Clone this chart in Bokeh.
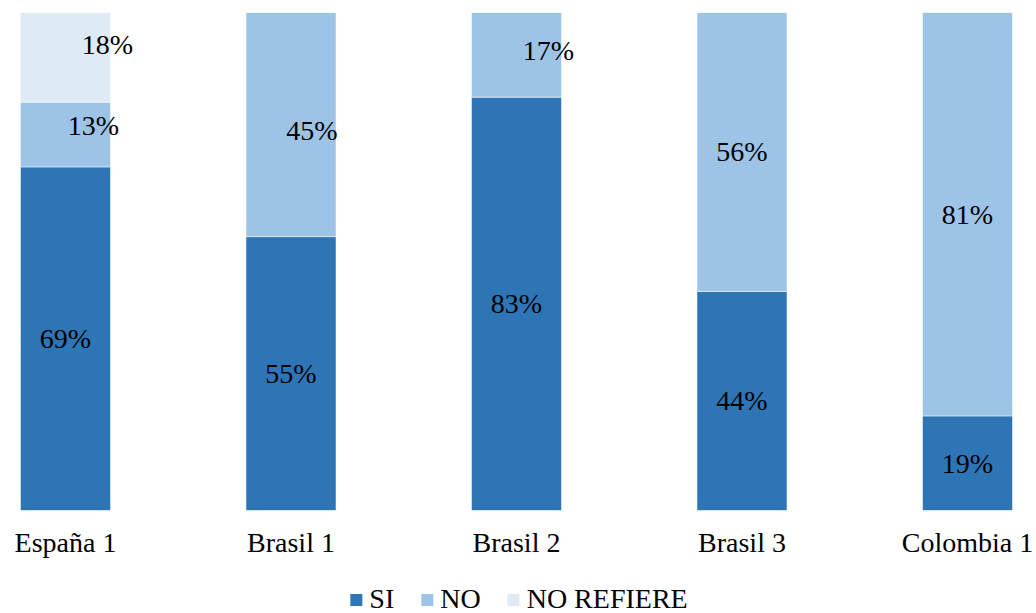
from bokeh.plotting import figure
from bokeh.layouts import column
from bokeh.models import ColumnDataSource, Legend, LegendItem, FixedTicker
from bokeh.core.properties import value
from bokeh.embed import file_html
from bokeh.resources import INLINE

categories = ["España 1", "Brasil 1", "Brasil 2", "Brasil 3", "Colombia 1"]
series = ["SI", "NO", "NO REFIERE"]
si_values = [69, 55, 83, 44, 19]
no_values = [13, 45, 17, 56, 81]
no_refiere_values = [18, 0, 0, 0, 0]

colors = ["#2E75B6", "#9DC3E6", "#DEEBF7"]
FONT = "Liberation Serif"
# manual label nudges (screen pixels) as in the original data labels
label_dx = {(0, 1): 28, (0, 2): 42, (1, 1): 21, (2, 1): 32}
label_dy = {(0, 1): -9, (0, 2): -13, (1, 1): 6, (2, 1): -4}

xs = list(range(len(categories)))
src = ColumnDataSource(dict(x=xs, SI=si_values, NO=no_values,
                            NR=no_refiere_values))

unit = 225.5
FW = 1036
x0 = -65 / unit
p = figure(frame_width=FW, frame_height=498,
           x_range=(x0, x0 + FW / unit), y_range=(0, 100),
           output_backend="svg", toolbar_location=None,
           min_border_left=0, min_border_right=0, min_border_top=12,
           min_border_bottom=0, outline_line_color=None)

rs = p.vbar_stack(["SI", "NO", "NR"], x="x", width=90 / unit, source=src,
                  color=colors, line_color="white", line_width=0.5)

# labels
lx, ly, lt, ldx, ldy = [], [], [], [], []
all_vals = [si_values, no_values, no_refiere_values]
for i in xs:
    base = 0
    for s, vals in enumerate(all_vals):
        v = vals[i]
        if v > 0:
            lx.append(i)
            ly.append(base + v / 2)
            lt.append(f"{v}%")
            ldx.append(label_dx.get((i, s), 0))
            ldy.append(label_dy.get((i, s), 0))
        base += v
lsrc = ColumnDataSource(dict(x=lx, y=ly, t=lt, dx=ldx, dy=ldy))
p.text(x="x", y="y", text="t", x_offset="dx", y_offset="dy", source=lsrc,
       text_align="center", text_baseline="middle",
       text_font=value(FONT), text_font_size="28px", text_color="black")

p.yaxis.visible = False
p.xgrid.visible = False
p.ygrid.visible = False
xa = p.xaxis[0]
xa.ticker = FixedTicker(ticks=xs)
xa.major_label_overrides = {i: c for i, c in enumerate(categories)}
xa.axis_line_color = None
xa.major_tick_line_color = None
xa.minor_tick_line_color = None
xa.major_label_text_font = FONT
xa.major_label_text_font_size = "28px"
xa.major_label_text_color = "black"
xa.major_label_standoff = 10

# legend strip below the chart (zero-height swatch renderers for legend keys)
pl = figure(width=FW, height=58, x_range=(0, 1), y_range=(0, 1),
            output_backend="svg", toolbar_location=None,
            x_axis_location=None, y_axis_location=None,
            min_border=0, outline_line_color=None)
pl.xgrid.visible = False
pl.ygrid.visible = False
swatches = [pl.vbar(x=[0.5], top=[0], bottom=[0], width=0,
                    fill_color=c, line_color=None)
            for c in colors]
legend = Legend(items=[LegendItem(label=s, renderers=[r]) for s, r in zip(series, swatches)],
                orientation="horizontal", location="bottom_center",
                label_text_font=FONT, label_text_font_size="28px",
                label_text_color="black",
                glyph_width=15, glyph_height=15, label_standoff=6,
                spacing=25, padding=0, margin=3,
                border_line_color=None, background_fill_alpha=0)
pl.add_layout(legend)

open("out.html", "w").write(file_html(column(p, pl, spacing=0), INLINE))
